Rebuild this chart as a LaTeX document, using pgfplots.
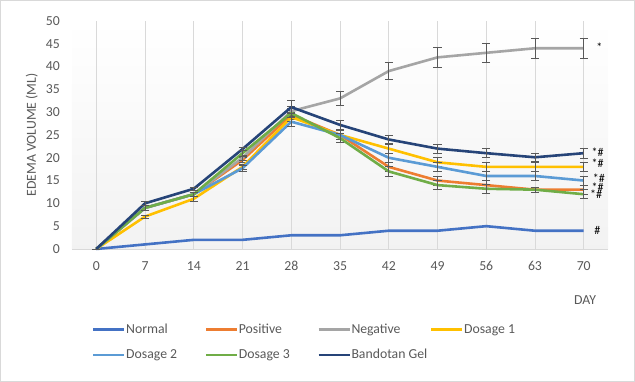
\documentclass[border=0pt]{standalone}
\usepackage{fontspec}
\setmainfont{Carlito}
\usepackage{pgfplots}
\usepackage{pgfplotstable}
\pgfplotsset{compat=1.18}
\definecolor{cNormal}{HTML}{4472C4}
\definecolor{cPositive}{HTML}{ED7D31}
\definecolor{cNegative}{HTML}{A5A5A5}
\definecolor{cDosA}{HTML}{FFC000}
\definecolor{cDosB}{HTML}{5B9BD5}
\definecolor{cDosC}{HTML}{70AD47}
\definecolor{cBand}{HTML}{264478}
\definecolor{txt}{HTML}{595959}
\definecolor{gridc}{HTML}{D9D9D9}

\pgfplotstableread{
x y e
0 0 0
7 1 0
14 2 0
21 2 0
28 3 0
35 3 0
42 4 0
49 4 0
56 5 0
63 4 0
70 4 0
}\normal
\pgfplotstableread{
x y e
0 0 0
7 9 0.5
14 12 0.5
21 19.5 0.6
28 29.4 1
35 25 1
42 18 1
49 15 1
56 14 1
63 13 0.6
70 13 1
}\positive
\pgfplotstableread{
x y e
0 0 0
7 9 0.5
14 12 0.5
21 20 0.6
28 30.2 1
35 33 1.6
42 39 1.9
49 42 2.2
56 43 2.1
63 44 2.2
70 44 2.2
}\negative
\pgfplotstableread{
x y e
0 0 0
7 7.1 0.3
14 11 0.5
21 18 0.6
28 28.9 1
35 25 1
42 22 1.1
49 19 1
56 18 1
63 18 1
70 18 1
}\dosA
\pgfplotstableread{
x y e
0 0 0
7 9 0.5
14 12 0.5
21 17.7 0.6
28 27.9 1.1
35 25 1
42 20 1
49 18 1
56 16 1
63 16 1
70 15 1
}\dosB
\pgfplotstableread{
x y e
0 0 0
7 9 0.5
14 12 0.5
21 21 0.6
28 29.8 1
35 24.3 1
42 17 1
49 14 1
56 13.2 1
63 13 0.6
70 12 1
}\dosC
\pgfplotstableread{
x y e
0 0 0
7 10 0.4
14 13.2 0.4
21 21.9 0.3
28 31.1 1.4
35 27.2 1
42 24 1
49 22 1
56 21 1
63 20.1 0.85
70 21 1.1
}\band

\begin{document}
\begin{tikzpicture}
\draw[gridc, line width=0.75bp] (0.5bp,0.5bp) rectangle (634.5bp,381.5bp);
\begin{axis}[
  at={(72bp,133bp)}, anchor=south west,
  width=536bp, height=228bp, scale only axis,
  xmin=-3.5, xmax=73.5, ymin=0, ymax=50,
  xtick={0,7,...,70}, ytick={0,5,...,50},
  axis lines*=left,
  x axis line style={draw=gridc, line width=0.75bp},
  y axis line style={draw=none},
  major tick length=0pt,
  xmajorgrids,
  major grid style={gridc, line width=0.75bp},
  axis background/.style={shade, top color=white, bottom color=black!5},
  /pgf/number format/assume math mode=true,
  tick label style={font=\fontsize{13.75bp}{16bp}\selectfont, text=txt},
  yticklabel style={xshift=-8.5bp},
  xticklabel style={yshift=-9bp},
  ylabel={EDEMA VOLUME (ML)},
  ylabel style={at={(axis description cs:-0.075,0.5)}, anchor=center, rotate=0, font=\fontsize{13.75bp}{16bp}\selectfont, text=txt},
  clip=false,
  legend columns=4,
  legend cell align=left,
  legend style={at={(axis description cs:0.0373,-0.327)}, anchor=north west,
    draw=none, fill=none, font=\fontsize{13.75bp}{16bp}\selectfont, text=txt,
    column sep=0bp, row sep=13bp, inner sep=0pt, nodes={inner sep=0.5bp}},
  legend image code/.code={\draw[#1] (0bp,0bp) -- (31bp,0bp);},
  every axis plot/.append style={line width=2.6bp, line join=round},
  error bars/y dir=both,
  error bars/y explicit,
  error bars/error bar style={draw=txt, line width=0.75bp},
  error bars/error mark options={draw=txt, line width=0.75bp, mark size=4bp, rotate=90},
]
\addplot[cNormal, error bars/y dir=none] table[x=x,y=y] {\normal};
\addlegendentry{\makebox[78bp][l]{Normal}}
\addplot[cPositive] table[x=x,y=y,y error=e] {\positive};
\addlegendentry{\makebox[78bp][l]{Positive}}
\addplot[cNegative] table[x=x,y=y,y error=e] {\negative};
\addlegendentry{\makebox[78bp][l]{Negative}}
\addplot[cDosA] table[x=x,y=y,y error=e] {\dosA};
\addlegendentry{\makebox[78bp][l]{Dosage 1}}
\addplot[cDosB] table[x=x,y=y,y error=e] {\dosB};
\addlegendentry{\makebox[78bp][l]{Dosage 2}}
\addplot[cDosC] table[x=x,y=y,y error=e] {\dosC};
\addlegendentry{\makebox[78bp][l]{Dosage 3}}
\addplot[cBand] table[x=x,y=y,y error=e] {\band};
\addlegendentry{\makebox[78bp][l]{Bandotan Gel}}

\node[anchor=center, font=\fontsize{13.75bp}{16bp}\selectfont, text=txt] at (axis description cs:0.957,-0.224) {DAY};
\begin{scope}[every node/.style={anchor=west, font=\fontsize{12bp}{14bp}\selectfont, inner sep=0pt}]
\node at (axis cs:71.8,44.3) {*};
\node at (axis cs:71.1,21.3) {*\#};
\node at (axis cs:71.1,18.7) {*\#};
\node at (axis cs:71.3,15.4) {*\#};
\node at (axis cs:71.1,13.5) {*\#};
\node at (axis cs:70.9,11.9) {*\#};
\node at (axis cs:71.5,4.0) {\#};
\end{scope}
\end{axis}
\end{tikzpicture}
\end{document}
